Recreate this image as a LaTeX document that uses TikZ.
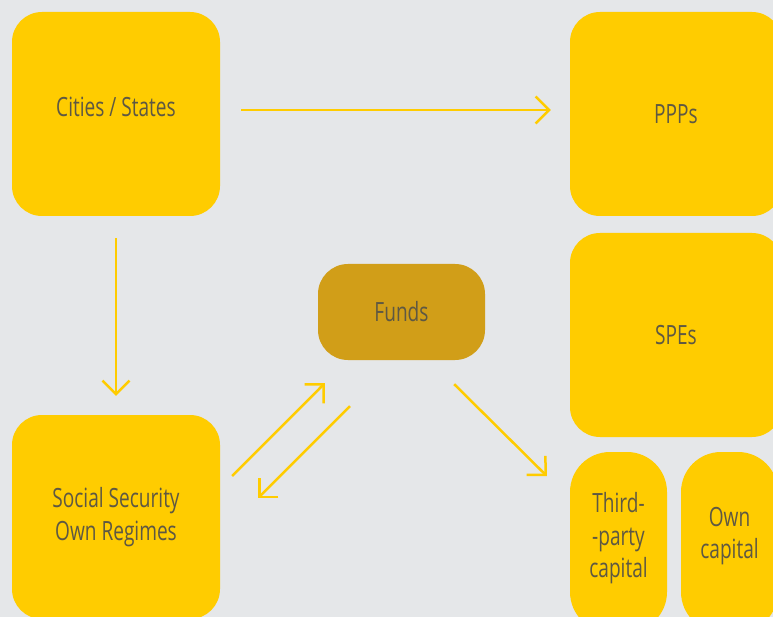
\documentclass[tikz,border=0pt]{standalone}
\usepackage{fontspec}
\setmainfont[FakeStretch=0.72]{Open Sans}
\usetikzlibrary{arrows.meta}
\definecolor{bg}{HTML}{E5E7E9}
\definecolor{ylw}{HTML}{FFCC00}
\definecolor{fund}{HTML}{D19E18}
\definecolor{txt}{HTML}{5E5843}
\tikzset{
  box/.style={fill=ylw, rounded corners=30pt, inner sep=0pt, align=center,
    text=txt, font=\fontsize{26.5}{32.5}\selectfont},
  pill/.style={box, rounded corners=40pt},
  arr/.style={draw=ylw, line width=2.5pt, -{Straight Barb[angle=90:19pt]}}
}
\begin{document}
\begin{tikzpicture}[x=1pt, y=-1pt]
\useasboundingbox (0,0) rectangle (773,617);
\clip (0,0) rectangle (773,617);
\fill[bg] (0,0) rectangle (773,617);
\node[box, minimum width=208pt, minimum height=204pt, text depth=14pt] (cities) at (116,114) {Cities / States};
\node[box, minimum width=212pt, minimum height=204pt] (ppp) at (676,114) {PPPs};
\node[box, minimum width=212pt, minimum height=204pt] (spe) at (676,335) {SPEs};
\node[box, minimum width=208pt, minimum height=204pt] (ss) at (116,517) {Social Security\\Own Regimes};
\node[box, fill=fund, minimum width=167pt, minimum height=96pt] (funds) at (401.5,312) {Funds};
\node[pill, minimum width=97pt, minimum height=180pt, text depth=14pt] (third) at (618.5,542) {Third-\\-party\\capital};
\node[pill, minimum width=97pt, minimum height=180pt, text depth=18pt] (own) at (729.5,542) {Own\\capital};
\draw[arr] ([xshift=21pt,yshift=4pt]cities.east) -- ([xshift=-19pt,yshift=4pt]ppp.west);
\draw[arr] ([yshift=-22pt]cities.south) -- ([yshift=19pt]ss.north);
\draw[arr] ([xshift=12pt,yshift=41pt]ss.east) -- ([xshift=7pt,yshift=-23pt]funds.south west);
\draw[arr] ([xshift=-51.5pt,yshift=-46pt]funds.south) -- ([xshift=38pt,yshift=19pt]ss.east);
\draw[arr] ([xshift=-31pt,yshift=-24pt]funds.south east) -- ([xshift=-23pt,yshift=66pt]third.west);
\end{tikzpicture}
\end{document}
